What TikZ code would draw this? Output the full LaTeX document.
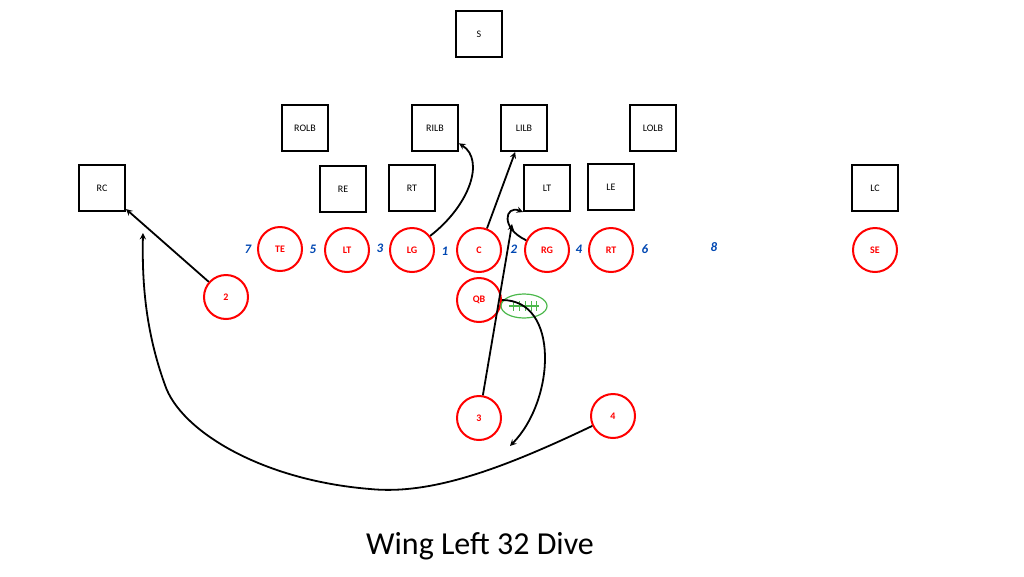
\documentclass[tikz,border=0pt]{standalone}
\usepackage{fontspec}
\setmainfont{Carlito}
\usetikzlibrary{positioning, shapes.geometric}

\begin{document}
\begin{tikzpicture}[x=1pt, y=-1pt, thick]
    % Define styles
    \tikzstyle{defbox} = [draw, line width=2pt, rectangle, minimum width=46pt, minimum height=46pt, font=\fontsize{10}{12}\selectfont]
    \tikzstyle{offman} = [draw=red, line width=2pt, circle, minimum size=44pt, inner sep=0pt, text=red, font=\fontsize{10}{12}\selectfont\bfseries]
    \tikzstyle{hole} = [text=blue!60!cyan!70!black, font=\fontsize{13}{15}\selectfont\itshape\bfseries]
    \tikzstyle{route} = [->, line width=1.8pt, >=stealth]
    \useasboundingbox (0,0) rectangle (1024,576);

    % DEFENSE
    \node (s) [defbox] at (479,34) {S};
    \node (rolb) [defbox] at (305,128) {ROLB};
    \node (rilb) [defbox] at (435,128) {RILB};
    \node (lilb) [defbox] at (524,128) {LILB};
    \node (lolb) [defbox] at (653,128) {LOLB};
    \node (rc) [defbox] at (102,188) {RC};
    \node (re) [defbox] at (343,189) {RE};
    \node (drt) [defbox] at (412,188) {RT};
    \node (dlt) [defbox] at (547,188) {LT};
    \node (le) [defbox] at (611,187) {LE};
    \node (lc) [defbox] at (875,188) {LC};

    % OFFENSE
    \node (te) [offman] at (280,249) {TE};
    \node (olt) [offman] at (347,250) {LT};
    \node (lg) [offman] at (412,250) {LG};
    \node (c) [offman] at (479,250) {C};
    \node (rg) [offman] at (547,250) {RG};
    \node (ort) [offman] at (611,250) {RT};
    \node (se) [offman] at (875,250) {SE};
    \node (back2) [offman] at (226,297) {2};
    \node (qb) [offman] at (479,300) {QB};
    \node (back3) [offman] at (479,418) {3};
    \node (back4) [offman] at (613,416) {4};

    % Holes
    \node (h7) [hole] at (248,249) {7};
    \node (h5) [hole] at (313,249) {5};
    \node (h3) [hole] at (380,248) {3};
    \node (h1) [hole] at (445,251) {1};
    \node (h2) [hole] at (514,249) {2};
    \node (h4) [hole] at (579,249) {4};
    \node (h6) [hole] at (645,249) {6};
    \node (h8) [hole] at (714,247) {8};

    % Football
    \node (ball) [draw=green!60!black!70, line width=1.2pt, ellipse, minimum width=46pt, minimum height=24pt, inner sep=0pt] at (524,306) {};
    \draw[green!60!black!70, line width=1.2pt] (509,306) -- (539,306);
    \foreach \lx in {513,519,525,531,536}
        \draw[green!60!black!70, line width=1pt] (\lx,301) -- (\lx,311);

    % Blocks and routes
    \coordinate (end3) at (512,224);
    \coordinate (endqb) at (510,446);
    \draw[route] (back2) -- (rc);
    \draw[route] (lg) .. controls (470,205) and (485,160) .. (rilb);
    \draw[route] (c) -- (lilb);
    \draw[route] (rg) .. controls (500,228) and (505,205) .. (dlt.south west);
    \draw[route] (back3) -- (end3);
    \draw[route] (qb.east) .. controls (560,300) and (555,400) .. (endqb);
    \draw[route] (back4) .. controls (500,470) and (430,495) .. (370,489)
        .. controls (260,480) and (180,430) .. (165,385)
        .. controls (145,330) and (142,280) .. (143,233);

    % Title
    \node (title) [font=\fontsize{32}{38}\selectfont] at (480,546) {Wing Left 32 Dive};
\end{tikzpicture}
\end{document}
